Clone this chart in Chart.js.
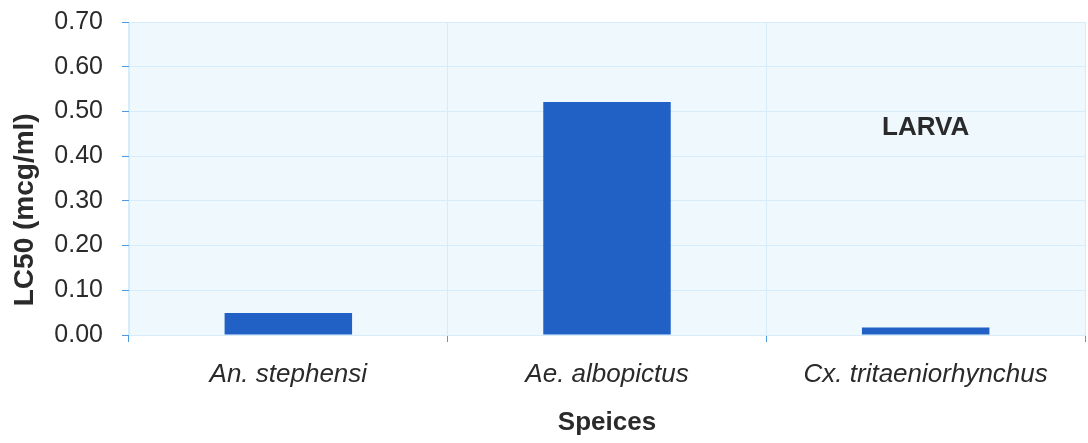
<!DOCTYPE html>
<html>
<head>
<meta charset="utf-8">
<script src="https://cdn.jsdelivr.net/npm/chart.js@4/dist/chart.umd.min.js"></script>
<style>
    html, body { margin: 0; padding: 0; background: #ffffff; }
    #wrap { width: 1088px; height: 443px; }
</style>
</head>
<body>
<div id="wrap"><canvas id="grafico"></canvas></div>
<script>
const especies = ['An. stephensi', 'Ae. albopictus', 'Cx. tritaeniorhynchus'];
const lc50 = [0.049, 0.521, 0.017];
const rotuloPainel = 'LARVA';
const tituloY = 'LC50 (mcg/ml)';

const fonte = '"Liberation Sans", Arial, sans-serif';

const fundoArea = {
    id: 'fundoArea',
    beforeDraw: function(chart) {
        const a = chart.chartArea;
        const c = chart.ctx;
        c.save();
        c.fillStyle = '#eef8fd';
        c.fillRect(a.left, a.top, a.right - a.left, a.bottom - a.top);
        c.restore();
    }
};

// rotulo LARVA e titulo do eixo y (um pouco abaixo do centro, como no original)
const textos = {
    id: 'textos',
    afterDatasetsDraw: function(chart) {
        const c = chart.ctx;
        const x = chart.scales.x.getPixelForValue(2);
        const y = chart.scales.y.getPixelForValue(0.463);
        c.save();
        c.font = 'bold 26px ' + fonte;
        c.fillStyle = '#2a2a2a';
        c.textAlign = 'center';
        c.textBaseline = 'middle';
        c.fillText(rotuloPainel, x, y);

        const ty = chart.scales.y.getPixelForValue(0.28);
        c.translate(25, ty);
        c.rotate(-Math.PI / 2);
        c.font = 'bold 28px ' + fonte;
        c.fillText(tituloY, 0, 0);
        c.restore();
    }
};

new Chart(document.getElementById('grafico'), {
    type: 'bar',
    data: {
        labels: especies,
        datasets: [{
            data: lc50,
            backgroundColor: '#2160c4',
            barPercentage: 0.4,
            categoryPercentage: 1
        }]
    },
    options: {
        responsive: true,
        maintainAspectRatio: false,
        animation: false,
        layout: { padding: { top: 22, right: 3, left: 6, bottom: 0 } },
        plugins: {
            legend: { display: false },
            tooltip: { enabled: false }
        },
        scales: {
            x: {
                afterFit: function(s) {
                    s.height = 108;
                    s.paddingLeft = 0;
                    s.paddingRight = 0;
                },
                grid: {
                    color: '#d6ecfa',
                    tickColor: '#4d9be0',
                    tickLength: 7,
                    offset: true
                },
                border: { color: '#d6ecfa' },
                ticks: {
                    color: '#2a2a2a',
                    padding: 17,
                    font: { family: fonte, size: 26, style: 'italic' }
                },
                title: {
                    display: true,
                    text: 'Speices',
                    color: '#2a2a2a',
                    padding: { top: 10, bottom: 5 },
                    font: { family: fonte, size: 26, weight: 'bold' }
                }
            },
            y: {
                min: 0,
                max: 0.7,
                afterFit: function(s) {
                    s.width = 123;
                    s.paddingTop = 0;
                    s.paddingBottom = 0;
                },
                ticks: {
                    stepSize: 0.1,
                    color: '#2a2a2a',
                    padding: 19,
                    callback: function(v) { return v.toFixed(2); },
                    font: { family: fonte, size: 25 }
                },
                grid: {
                    color: '#d6ecfa',
                    tickColor: '#4d9be0',
                    tickLength: 7
                },
                border: { color: '#d6ecfa' }
            }
        }
    },
    plugins: [fundoArea, textos]
});
</script>
</body>
</html>
